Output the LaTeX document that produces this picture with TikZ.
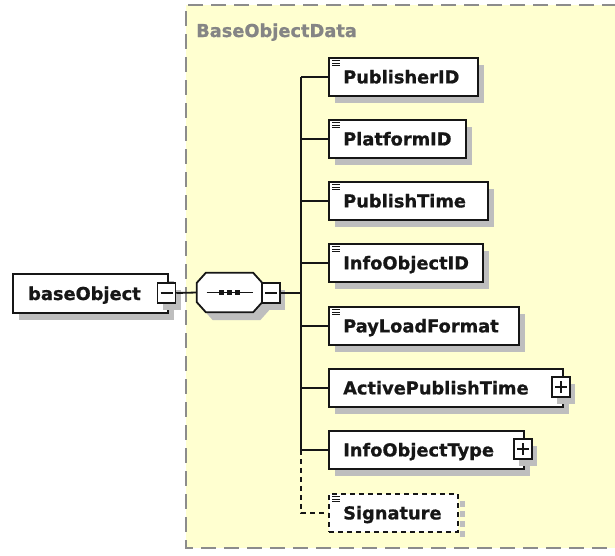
\documentclass[tikz,border=0pt]{standalone}
\usepackage{fontspec}
\setmainfont{DejaVu Sans}[BoldFeatures={FakeBold=0.9}]
\usetikzlibrary{calc}
\definecolor{grpfill}{HTML}{FFFFD0}
\definecolor{grpline}{HTML}{8C8C8C}
\definecolor{grptext}{HTML}{858585}
\definecolor{shadowc}{HTML}{BEBEBE}
\definecolor{inkc}{HTML}{161616}
\tikzset{
  elembox/.style={draw=inkc, line width=1.8pt, fill=white, rectangle, inner sep=0pt,
    anchor=north west, minimum height=38pt},
  lbl/.style={font=\fontsize{17.8}{20}\selectfont\bfseries, text=inkc, inner sep=0pt, anchor=base west},
  grplbl/.style={font=\fontsize{17.8}{20}\selectfont\bfseries, text=grptext, inner sep=0pt, anchor=base west},
  conn/.style={draw=inkc, line width=1.8pt},
  dconn/.style={draw=inkc, line width=1.8pt, dash pattern=on 5pt off 4pt},
  togbox/.style={draw=inkc, line width=1.5pt, fill=white, rectangle, inner sep=0pt,
    minimum width=18pt, minimum height=20pt},
  togmark/.style={draw=inkc, line width=1.3pt},
  iconline/.style={draw=inkc, line width=1pt},
  shadowfill/.style={fill=shadowc},
  octpath/.style={line width=1.8pt},
}
\newcommand\mkelem[5]{%
  \fill[shadowfill] (#2+7,#3+8) rectangle ++(#4,38);
  \node[elembox, minimum width=#4pt] (#1) at (#2,#3) {};
  \node[lbl] (#1t) at ([xshift=15pt,yshift=-6.5pt]#1.west) {#5};
}
\newcommand\mkicon[1]{%
  \draw[iconline] ($(#1.north west)+(4,3.5)$) -- ++(8,0);
  \draw[iconline] ($(#1.north west)+(4,6)$) -- ++(8,0);
  \draw[iconline] ($(#1.north west)+(4,8.5)$) -- ++(8,0);
}
\newcommand\mkplus[3]{% name, cx, cy
  \fill[shadowfill] (#2-9+5,#3-10+7) rectangle ++(18,20);
  \node[togbox] (#1) at (#2,#3) {};
  \draw[togmark] ([xshift=-6pt]#1.center) -- ([xshift=6pt]#1.center);
  \draw[togmark] ([yshift=-6pt]#1.center) -- ([yshift=6pt]#1.center);
}
\newcommand\mkminus[3]{% name, cx, cy
  \fill[shadowfill] (#2-9+5,#3-10+7) rectangle ++(18,20);
  \node[togbox] (#1) at (#2,#3) {};
  \draw[togmark] ([xshift=-6pt]#1.center) -- ([xshift=6pt]#1.center);
}
\newcommand\octagon[1]{%
  ($(#1.north west)+(9,0)$) -- ($(#1.north east)+(-9,0)$) -- ($(#1.north east)+(0,10)$)
  -- ($(#1.south east)+(0,-10)$) -- ($(#1.south east)+(-9,0)$) -- ($(#1.south west)+(9,0)$)
  -- ($(#1.south west)+(0,-10)$) -- ($(#1.north west)+(0,10)$) -- cycle
}
\begin{document}
\begin{tikzpicture}[x=1pt,y=-1pt]
\useasboundingbox (0,0) rectangle (615,555);
\fill[white] (0,0) rectangle (615,555);
\begin{scope}
\clip (0,0) rectangle (615,555);
% group
\fill[grpfill] (186,5) rectangle (640,548);
\draw[grpline, line width=2.6pt, dash pattern=on 15pt off 8pt] (640,5) -- (186,5) -- (186,548) -- (640,548);
\end{scope}
\node[grplbl] (grp) at (196,37) {BaseObjectData};

% root element
\fill[shadowfill] (19,281) rectangle ++(155,39);
\node[elembox, minimum width=155pt, minimum height=39pt] (root) at (12,273) {};
\node[lbl] (roott) at (28,300) {baseObject};
\mkminus{rmin}{166.5}{293}

% sequence compositor
\node[minimum width=65pt, minimum height=39pt, inner sep=0pt] (seqsh) at (236.5,300.5) {};
\node[minimum width=65pt, minimum height=39pt, inner sep=0pt] (seq) at (229.5,292.5) {};
\fill[shadowc] \octagon{seqsh};
\filldraw[octpath, draw=inkc, fill=white] \octagon{seq};
\draw[conn, line width=1.3pt] ([xshift=-23pt]seq.center) -- ([xshift=23pt]seq.center);
\foreach \dx in {-8,0,8}{
  \fill[inkc] ($(seq.center)+(\dx-2.4,-2.4)$) rectangle ++(4.8,4.8);
}
\mkminus{smin}{271}{293}

% children
\mkelem{pub}{328}{57}{149}{PublisherID}
\mkicon{pub}
\mkelem{plat}{328}{119}{137}{PlatformID}
\mkicon{plat}
\mkelem{ptime}{328}{181}{159}{PublishTime}
\mkicon{ptime}
\mkelem{ioid}{328}{243}{154}{InfoObjectID}
\mkicon{ioid}
\mkelem{plf}{328}{306}{190}{PayLoadFormat}
\mkicon{plf}
\mkelem{apt}{328}{368}{234}{ActivePublishTime}
\mkplus{aptp}{561}{387}
\mkelem{iot}{328}{430}{195}{InfoObjectType}
\mkplus{iotp}{523}{449}

% optional Signature
\draw[shadowc, line width=5pt, dash pattern=on 6pt off 4pt] (462,501) -- (462,538);
\node[elembox, minimum width=129pt, dash pattern=on 5pt off 4pt] (sig) at (328,493) {};
\node[lbl] (sigt) at ([xshift=15pt,yshift=-6.5pt]sig.west) {Signature};
\mkicon{sig}

% connectors
\coordinate (busx) at (301,0);
\draw[conn] (rmin.east) -- (seq.west);
\draw[conn] (smin.east) -- (smin.east -| busx);
\draw[conn] (pub.west -| busx) -- (iot.west -| busx);
\foreach \c in {pub,plat,ptime,ioid,plf,apt,iot}{
  \draw[conn] (\c.west -| busx) -- (\c.west);
}
\draw[dconn] (iot.west -| busx) -- (sig.west -| busx) -- (sig.west);
\end{tikzpicture}
\end{document}
